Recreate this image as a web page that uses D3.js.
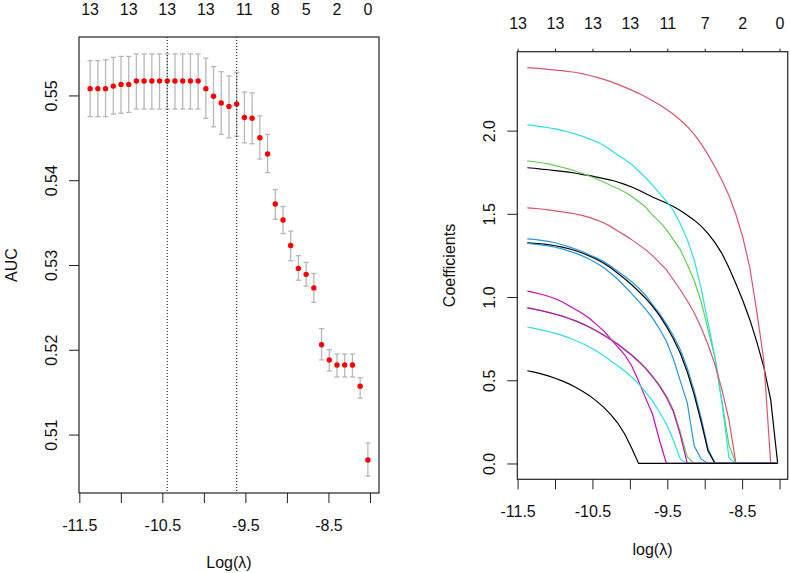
<!DOCTYPE html>
<html><head><meta charset="utf-8">
<script src="https://cdn.jsdelivr.net/npm/d3@7"></script>
<style>
body{margin:0;background:#fff;}
svg{display:block;font-family:"Liberation Sans",Arial,sans-serif;}
</style>
</head><body>
<svg id="chart" width="790" height="573"></svg>
<script>
// ---------- data ----------
const logLambda = [-11.370,-11.277,-11.184,-11.091,-10.998,-10.905,-10.813,-10.720,-10.627,-10.534,-10.441,-10.348,-10.255,-10.162,-10.069,-9.976,-9.884,-9.791,-9.698,-9.605,-9.512,-9.419,-9.326,-9.233,-9.140,-9.047,-8.955,-8.862,-8.769,-8.676,-8.583,-8.490,-8.397,-8.304,-8.211,-8.118,-8.025];
const aucMean  = [0.5508,0.5508,0.5508,0.5511,0.5513,0.5513,0.5517,0.5517,0.5517,0.5517,0.5517,0.5517,0.5517,0.5517,0.5517,0.5508,0.5499,0.5491,0.5487,0.5490,0.5474,0.5473,0.5450,0.5431,0.5372,0.5353,0.5323,0.5296,0.5289,0.5273,0.5206,0.5188,0.5182,0.5182,0.5182,0.5157,0.5070];
const aucUpper = [0.5541,0.5541,0.5542,0.5545,0.5546,0.5546,0.5549,0.5549,0.5549,0.5549,0.5549,0.5549,0.5549,0.5549,0.5549,0.5544,0.5534,0.5528,0.5523,0.5527,0.5504,0.5503,0.5476,0.5454,0.5389,0.5369,0.5340,0.5311,0.5303,0.5290,0.5225,0.5200,0.5195,0.5195,0.5195,0.5167,0.5090];
const aucLower = [0.5475,0.5475,0.5475,0.5478,0.5479,0.5480,0.5484,0.5484,0.5484,0.5484,0.5484,0.5484,0.5484,0.5484,0.5484,0.5473,0.5463,0.5454,0.5450,0.5452,0.5444,0.5443,0.5425,0.5409,0.5354,0.5337,0.5305,0.5282,0.5275,0.5256,0.5188,0.5175,0.5168,0.5168,0.5168,0.5143,0.5051];
const lambdaMinLog = -10.441;
const lambda1seLog = -9.605;

const topLabelsLeft   = ["13","13","13","13","11","8","5","2","0"];
const topLabelsLeftAt = [-11.370,-10.905,-10.441,-9.976,-9.512,-9.140,-8.769,-8.397,-8.025];
const xTicks      = [-11.5,-11,-10.5,-10,-9.5,-9,-8.5,-8];
const xTickLabels = ["-11.5","","-10.5","","-9.5","","-8.5",""];
const aucTicks      = [0.51,0.52,0.53,0.54,0.55];
const aucTickLabels = ["0.51","0.52","0.53","0.54","0.55"];
const coefTicks      = [0,0.5,1,1.5,2];
const coefTickLabels = ["0.0","0.5","1.0","1.5","2.0"];
const topLabelsRight = ["13","13","13","13","11","7","2","0"];

const coef1  = [1.777,1.774,1.769,1.765,1.760,1.755,1.750,1.744,1.736,1.729,1.721,1.712,1.703,1.691,1.677,1.661,1.643,1.622,1.601,1.583,1.565,1.544,1.520,1.492,1.462,1.426,1.381,1.327,1.261,1.176,1.080,0.978,0.864,0.731,0.581,0.382,0];
const coef2  = [2.379,2.376,2.373,2.368,2.364,2.360,2.355,2.349,2.341,2.331,2.320,2.308,2.294,2.278,2.261,2.243,2.224,2.203,2.180,2.155,2.128,2.098,2.064,2.025,1.977,1.920,1.854,1.781,1.700,1.610,1.496,1.357,1.176,0.911,0.623,0,0];
const coef3  = [1.818,1.813,1.807,1.800,1.790,1.780,1.769,1.756,1.742,1.726,1.709,1.691,1.670,1.652,1.631,1.604,1.574,1.541,1.492,1.453,1.405,1.345,1.285,1.195,1.098,0.972,0.803,0.635,0.370,0.111,0,0,0,0,0,0,0];
const coef4  = [1.350,1.346,1.341,1.334,1.326,1.314,1.301,1.287,1.272,1.253,1.234,1.213,1.185,1.155,1.125,1.092,1.054,1.011,0.954,0.902,0.839,0.767,0.683,0.574,0.436,0.273,0.087,0,0,0,0,0,0,0,0,0,0];
const coef5  = [2.034,2.030,2.024,2.017,2.010,2.001,1.990,1.978,1.965,1.949,1.933,1.911,1.884,1.854,1.827,1.797,1.757,1.718,1.673,1.625,1.577,1.520,1.441,1.345,1.224,1.050,0.845,0.635,0.364,0.033,0,0,0,0,0,0,0];
const coef6  = [1.036,1.027,1.017,1.005,0.990,0.972,0.948,0.924,0.899,0.869,0.833,0.797,0.749,0.701,0.653,0.587,0.496,0.394,0.297,0.141,0,0,0,0,0,0,0,0,0,0,0,0,0,0,0,0,0];
const coef7  = [1.326,1.323,1.320,1.315,1.308,1.300,1.290,1.278,1.263,1.245,1.226,1.203,1.176,1.143,1.110,1.074,1.035,0.993,0.945,0.890,0.824,0.749,0.662,0.550,0.412,0.249,0.075,0,0,0,0,0,0,0,0,0,0];
const coef8  = [1.536,1.533,1.529,1.524,1.518,1.512,1.506,1.499,1.489,1.477,1.462,1.446,1.423,1.397,1.372,1.345,1.315,1.285,1.249,1.207,1.165,1.104,1.044,0.978,0.906,0.815,0.713,0.593,0.442,0.261,0,0,0,0,0,0,0];
const coef9  = [0.934,0.926,0.918,0.908,0.898,0.886,0.872,0.857,0.839,0.819,0.797,0.773,0.746,0.719,0.686,0.653,0.617,0.575,0.526,0.472,0.406,0.322,0.189,0.039,0,0,0,0,0,0,0,0,0,0,0,0,0];
const coef10 = [1.322,1.318,1.313,1.307,1.299,1.289,1.276,1.262,1.246,1.226,1.203,1.176,1.143,1.107,1.065,1.020,0.975,0.927,0.875,0.809,0.734,0.629,0.496,0.364,0.105,0.026,0,0,0,0,0,0,0,0,0,0,0];
const coef11 = [0.820,0.812,0.803,0.793,0.782,0.770,0.755,0.737,0.719,0.698,0.674,0.647,0.616,0.587,0.556,0.520,0.478,0.430,0.376,0.309,0.237,0.141,0.026,0,0,0,0,0,0,0,0,0,0,0,0,0,0];
const coef12 = [0.936,0.927,0.918,0.908,0.897,0.885,0.871,0.855,0.837,0.817,0.795,0.771,0.744,0.716,0.683,0.650,0.613,0.571,0.521,0.466,0.398,0.312,0.172,0,0,0,0,0,0,0,0,0,0,0,0,0,0];
const coef13 = [0.557,0.549,0.538,0.526,0.512,0.496,0.478,0.457,0.433,0.406,0.373,0.337,0.294,0.243,0.177,0.093,0,0,0,0,0,0,0,0,0,0,0,0,0,0,0,0,0,0,0,0,0];
const coefColors = ["#000000","#DF536B","#61D04F","#2297E6","#28E2E5","#CD0BBC"];

// ---------- drawing ----------
const svg = d3.select("#chart");
const FS = 16;
const pad = ([a, b]) => { const r = (b - a) * 0.04; return [a - r, b + r]; };

const L = {x0: 79, x1: 379, y0: 37, y1: 493};
const R = {x0: 517.3, x1: 787.7, y0: 51.7, y1: 479.3};

const xDom = pad(d3.extent(logLambda));
const xL = d3.scaleLinear().domain(xDom).range([L.x0, L.x1]);
const yL = d3.scaleLinear().domain(pad([d3.min(aucLower), d3.max(aucUpper)])).range([L.y1, L.y0]);

const coefs = [coef1,coef2,coef3,coef4,coef5,coef6,coef7,coef8,coef9,coef10,coef11,coef12,coef13];
const xR = d3.scaleLinear().domain(xDom).range([R.x0, R.x1]);
const yR = d3.scaleLinear().domain(pad([d3.min(coefs.flat()), d3.max(coefs.flat())])).range([R.y1, R.y0]);

function styleAxis(g) {
  g.select(".domain").remove();
  g.selectAll(".tick line").attr("stroke", "#222").attr("stroke-width", 1);
  g.selectAll(".tick text").attr("font-size", FS).attr("fill", "#111")
    .attr("font-family", "Liberation Sans, Arial, sans-serif");
}

function bottomAxis(scale, box) {
  const g = svg.append("g").attr("transform", `translate(0,${box.y1})`)
    .call(d3.axisBottom(scale).tickValues(xTicks).tickSize(10)
      .tickFormat((d, i) => xTickLabels[i]));
  styleAxis(g);
  g.selectAll(".tick text").attr("y", 32).attr("dy", "0.35em");
}

function leftAxis(scale, box, vals, labs) {
  const g = svg.append("g").attr("transform", `translate(${box.x0},0)`)
    .call(d3.axisLeft(scale).tickValues(vals).tickSize(10)
      .tickFormat((d, i) => labs[i]));
  styleAxis(g);
  g.selectAll(".tick text").attr("x", null).attr("dy", "0.35em")
    .attr("text-anchor", "middle")
    .attr("transform", "translate(-28,0) rotate(-90)");
}

// ===== Left panel =====
const gL = svg.append("g");
// error bars
const capW = 2.6;
logLambda.forEach((v, i) => {
  const x = xL(v);
  gL.append("line").attr("x1", x).attr("x2", x)
    .attr("y1", yL(aucUpper[i])).attr("y2", yL(aucLower[i]))
    .attr("stroke", "#b8b8b8").attr("stroke-width", 1.3);
  [aucUpper[i], aucLower[i]].forEach(u => {
    gL.append("line").attr("x1", x - capW).attr("x2", x + capW)
      .attr("y1", yL(u)).attr("y2", yL(u))
      .attr("stroke", "#b8b8b8").attr("stroke-width", 1.3);
  });
});
// points
gL.selectAll("circle").data(logLambda).join("circle")
  .attr("cx", d => xL(d)).attr("cy", (d, i) => yL(aucMean[i]))
  .attr("r", 2.7).attr("fill", "#ff0000");
// dotted vertical lines
[lambdaMinLog, lambda1seLog].forEach(v => {
  gL.append("line").attr("x1", xL(v)).attr("x2", xL(v))
    .attr("y1", L.y0).attr("y2", L.y1)
    .attr("stroke", "#222").attr("stroke-width", 1.1).attr("stroke-dasharray", "1,2");
});
// box
svg.append("rect").attr("x", L.x0).attr("y", L.y0)
  .attr("width", L.x1 - L.x0).attr("height", L.y1 - L.y0)
  .attr("fill", "none").attr("stroke", "#222").attr("stroke-width", 1.2);
bottomAxis(xL, L);
leftAxis(yL, L, aucTicks, aucTickLabels);
// top labels
svg.append("g").selectAll("text").data(topLabelsLeft).join("text")
  .attr("x", (d, i) => xL(topLabelsLeftAt[i])).attr("y", L.y0 - 28)
  .attr("dy", "0.35em").attr("text-anchor", "middle")
  .attr("font-size", FS).attr("fill", "#111").text(d => d);
// titles
svg.append("text").attr("x", (L.x0 + L.x1) / 2).attr("y", 562).attr("dy", "0.35em")
  .attr("text-anchor", "middle").attr("font-size", FS).attr("fill", "#111").text("Log(λ)");
svg.append("text").attr("transform", `translate(11,${(L.y0 + L.y1) / 2}) rotate(-90)`)
  .attr("dy", "0.35em").attr("text-anchor", "middle").attr("font-size", FS)
  .attr("fill", "#111").text("AUC");

// ===== Right panel =====
const line = d3.line().x((d, i) => xR(logLambda[i])).y(d => yR(d));
svg.append("g").selectAll("path").data(coefs).join("path")
  .attr("d", d => line(d)).attr("fill", "none")
  .attr("stroke", (d, i) => coefColors[i % coefColors.length])
  .attr("stroke-width", 1.2);
svg.append("rect").attr("x", R.x0).attr("y", R.y0)
  .attr("width", R.x1 - R.x0).attr("height", R.y1 - R.y0)
  .attr("fill", "none").attr("stroke", "#222").attr("stroke-width", 1.2);
bottomAxis(xR, R);
leftAxis(yR, R, coefTicks, coefTickLabels);
// top axis with short ticks
const gT = svg.append("g").attr("transform", `translate(0,${R.y0})`)
  .call(d3.axisTop(xR).tickValues(xTicks).tickSize(3)
    .tickFormat((d, i) => topLabelsRight[i]));
styleAxis(gT);
gT.selectAll(".tick text").attr("y", -28).attr("dy", "0.35em");
svg.append("text").attr("x", (R.x0 + R.x1) / 2).attr("y", 549.5).attr("dy", "0.35em")
  .attr("text-anchor", "middle").attr("font-size", FS).attr("fill", "#111").text("log(λ)");
svg.append("text").attr("transform", `translate(449,${(R.y0 + R.y1) / 2}) rotate(-90)`)
  .attr("dy", "0.35em").attr("text-anchor", "middle").attr("font-size", FS)
  .attr("fill", "#111").text("Coefficients");
</script>
</body></html>
